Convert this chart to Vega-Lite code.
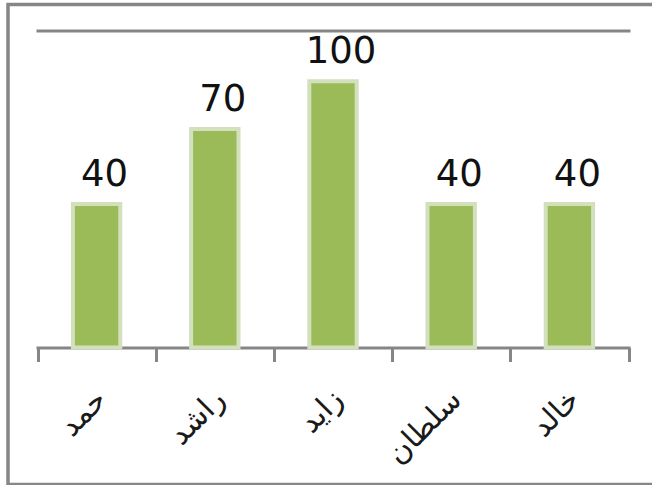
{
  "$schema": "https://vega.github.io/schema/vega-lite/v6.json",
  "width": 648,
  "height": 480,
  "autosize": {"type": "none"},
  "padding": {"left": 8, "top": 4.5, "right": -4, "bottom": 0.5},
  "background": "white",
  "config": {"view": {"stroke": "#868686", "strokeWidth": 3.5}},
  "data": {"values": [
    {"name": "حمد", "value": 40},
    {"name": "راشد", "value": 70},
    {"name": "زايد", "value": 100},
    {"name": "سلطان", "value": 40},
    {"name": "خالد", "value": 40}
  ]},
  "encoding": {
    "x": {
      "field": "name", "type": "nominal", "sort": null,
      "scale": {"range": [29.5, 620.5], "paddingInner": 0, "paddingOuter": 0},
      "axis": {
        "title": null, "grid": false,
        "domain": true, "domainColor": "#868686", "domainWidth": 3, "domainCap": "square",
        "ticks": true, "tickBand": "extent", "tickSize": 14, "tickWidth": 3, "tickColor": "#868686",
        "labelAngle": -45, "labelAlign": "right", "labelBaseline": "middle",
        "labelFont": "DejaVu Sans", "labelFontSize": 30, "labelColor": "#1a1a1a",
        "labelPadding": 33, "labelOffset": 5, "labelOverlap": false, "labelFlush": false,
        "offset": -137
      }
    },
    "y": {
      "field": "value", "type": "quantitative",
      "scale": {"type": "log", "domain": [13.7, 146.18], "range": [343, 26], "nice": false},
      "axis": {
        "title": null, "values": [146.18], "labels": false, "ticks": false, "domain": false,
        "grid": true, "gridColor": "#868686", "gridWidth": 3, "gridCap": "square"
      }
    }
  },
  "layer": [
    {
      "mark": {"type": "bar", "color": "#9bbb59", "stroke": "#d3e0bd", "strokeWidth": 4, "width": {"band": 0.401}},
      "encoding": {"y2": {"datum": 13.7}}
    },
    {
      "mark": {"type": "text", "font": "DejaVu Sans", "fontSize": 37, "color": "#111111", "baseline": "alphabetic", "dy": -18, "dx": 8},
      "encoding": {"text": {"field": "value", "type": "quantitative"}}
    }
  ]
}
